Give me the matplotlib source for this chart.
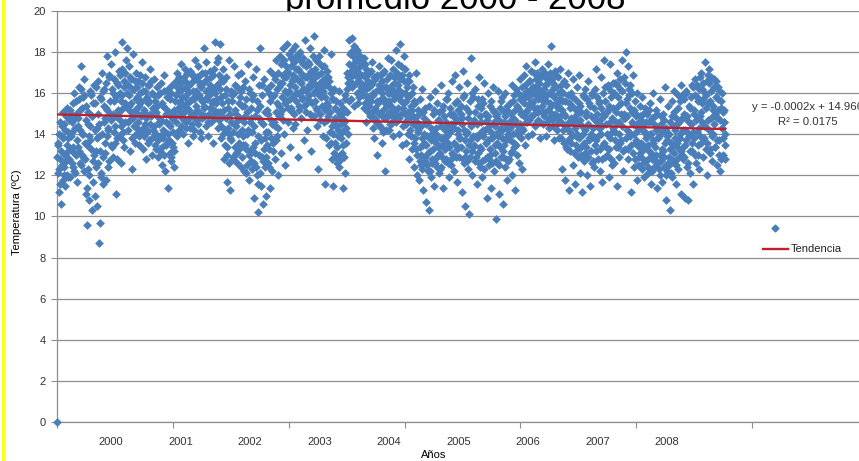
import numpy as np
import matplotlib.pyplot as plt
from matplotlib.lines import Line2D

# temperatura media diaria (ºC), por tramos de ~300 registros
# t*: valores en los registros 0, 3, 6, ...   u*: valores intermedios (1.5, 4.5, ...)
t0 = [0.0, 12.1, 13.5, 11.2, 14.6, 12.8, 10.6, 13.9, 11.8, 15.1,
      12.4, 14.2, 11.5, 13.1, 15.3, 12.0, 13.8, 14.7, 11.9, 13.3,
      15.0, 12.6, 14.1, 13.4, 16.0, 12.2, 14.8, 13.0, 15.6, 11.7,
      14.4, 16.3, 13.2, 15.2, 12.5, 17.3, 14.0, 15.8, 12.9, 16.7,
      13.6, 11.1, 15.4, 9.6, 14.5, 12.3, 10.8, 16.1, 13.7, 15.9,
      10.3, 14.9, 12.7, 16.4, 11.0, 15.5, 13.2, 10.5, 14.3, 16.6,
      8.7, 13.9, 9.7, 15.7, 12.1, 17.0, 11.6, 14.6, 16.2, 13.1,
      15.3, 11.8, 17.8, 14.2, 12.4, 16.8, 15.0, 13.5, 17.4, 14.8,
      16.0, 12.9, 15.6, 18.0, 14.4, 11.1, 16.5, 13.8, 15.2, 17.1,
      14.7, 16.9, 12.6, 15.9, 18.5, 14.1, 16.3, 13.4, 15.5, 17.6]
t1 = [16.0, 18.2, 14.6, 15.4, 17.3, 13.2, 16.7, 15.1, 12.3, 17.9,
      14.8, 16.2, 13.6, 15.7, 17.0, 14.3, 16.6, 15.0, 13.9, 16.9,
      15.5, 14.1, 17.5, 13.3, 16.1, 15.2, 14.5, 16.8, 12.8, 15.8,
      14.2, 16.4, 13.7, 15.6, 17.2, 14.9, 16.0, 13.0, 15.3, 14.4,
      16.7, 13.5, 15.1, 14.0, 16.3, 12.9, 15.9, 14.6, 13.2, 16.5,
      14.7, 12.5, 15.4, 13.8, 16.9, 14.1, 12.2, 15.0, 13.6, 16.2,
      11.4, 14.5, 13.1, 15.7, 12.7, 14.8, 16.4, 13.4, 15.2, 12.4,
      14.9, 16.6, 13.9, 17.0, 15.3, 14.2, 16.1, 15.6, 14.4, 17.4,
      15.8, 14.0, 16.8, 15.1, 17.2, 14.6, 16.3, 15.5, 13.6, 16.0,
      15.2, 17.1, 14.3, 16.5, 15.7, 13.9, 16.9, 15.0, 14.8, 17.6]
t2 = [15.4, 16.8, 14.7, 17.3, 15.9, 14.1, 16.4, 13.8, 15.6, 17.0,
      14.9, 18.2, 15.3, 16.6, 14.4, 17.5, 15.8, 13.9, 16.2, 15.0,
      17.1, 14.6, 16.0, 15.5, 13.6, 16.9, 15.2, 18.5, 14.8, 16.3,
      15.7, 17.7, 14.3, 16.5, 18.4, 15.1, 13.8, 16.7, 14.9, 17.2,
      12.8, 15.9, 14.2, 16.8, 13.4, 11.7, 15.3, 17.6, 14.0, 11.3,
      16.1, 13.7, 15.6, 12.9, 17.3, 14.5, 16.4, 13.1, 15.0, 12.6,
      14.7, 16.9, 13.3, 15.8, 12.4, 17.0, 14.2, 16.3, 13.9, 15.4,
      13.5, 16.6, 12.1, 15.1, 14.0, 17.4, 11.8, 16.0, 13.2, 14.8,
      15.7, 12.3, 16.8, 14.4, 10.9, 13.6, 17.2, 12.0, 15.2, 10.2,
      16.4, 13.0, 18.2, 11.5, 14.6, 15.9, 12.7, 10.6, 16.7, 13.8]
t3 = [14.1, 11.0, 16.2, 12.6, 15.0, 13.3, 17.1, 11.4, 14.7, 12.2,
      15.8, 13.6, 16.9, 12.8, 14.4, 17.6, 13.9, 15.5, 12.0, 16.3,
      14.9, 17.8, 13.1, 16.5, 15.2, 18.2, 14.0, 16.8, 12.5, 17.3,
      15.6, 18.4, 14.6, 17.0, 16.1, 13.4, 17.7, 15.3, 18.1, 14.3,
      16.7, 15.0, 18.3, 14.5, 17.2, 16.0, 12.9, 17.9, 15.4, 16.6,
      18.0, 14.8, 16.9, 15.7, 17.4, 13.7, 16.2, 18.6, 15.1, 16.8,
      14.2, 17.5, 15.9, 16.4, 18.2, 13.2, 17.0, 15.5, 16.7, 14.9,
      18.8, 16.1, 15.3, 17.6, 14.4, 16.9, 12.3, 17.8, 15.0, 16.5,
      15.8, 17.3, 13.9, 16.3, 18.1, 15.2, 11.6, 16.8, 14.7, 17.1,
      15.4, 13.5, 16.6, 14.1, 17.9, 12.8, 15.7, 11.5, 16.2, 14.6]
t4 = [14.8, 12.9, 15.6, 13.4, 14.2, 16.1, 12.4, 15.0, 13.8, 14.5,
      13.1, 15.3, 11.4, 14.7, 12.1, 15.9, 13.6, 17.0, 14.0, 16.5,
      18.6, 16.8, 17.9, 15.7, 18.7, 16.4, 17.3, 15.4, 18.2, 16.9,
      17.6, 16.0, 18.1, 15.5, 17.0, 16.6, 17.8, 15.9, 16.3, 17.4,
      16.2, 17.7, 15.3, 16.8, 14.6, 17.2, 15.8, 16.5, 15.1, 17.0,
      14.9, 16.4, 15.6, 17.5, 14.3, 16.0, 13.8, 15.2, 16.7, 14.7,
      16.9, 13.0, 15.5, 17.3, 14.4, 16.2, 15.0, 13.6, 16.6, 14.1,
      15.7, 17.1, 12.2, 16.3, 14.8, 15.4, 17.7, 14.2, 16.0, 15.1,
      17.6, 14.5, 16.4, 15.9, 13.9, 16.8, 15.2, 18.1, 14.6, 16.1,
      15.3, 17.4, 14.0, 16.7, 18.4, 15.6, 13.5, 16.9, 14.4, 17.8]
t5 = [15.0, 17.2, 13.6, 16.3, 14.7, 15.8, 12.8, 16.6, 14.2, 15.4,
      13.3, 16.0, 14.9, 12.4, 15.6, 13.8, 17.0, 14.4, 12.0, 15.2,
      14.1, 11.8, 15.7, 13.0, 12.5, 16.2, 13.5, 11.3, 14.8, 12.7,
      15.3, 10.7, 13.9, 12.2, 14.6, 10.3, 13.2, 15.8, 11.9, 14.0,
      12.6, 15.0, 13.7, 11.5, 16.1, 14.3, 12.9, 15.5, 13.4, 12.1,
      14.7, 13.1, 16.4, 12.4, 15.2, 13.8, 11.4, 14.9, 13.3, 15.7,
      12.8, 14.4, 16.0, 13.6, 11.9, 15.3, 14.1, 12.5, 16.6, 13.0,
      15.0, 12.2, 14.6, 16.9, 13.5, 11.7, 15.6, 14.2, 12.9, 16.3,
      13.8, 15.4, 11.2, 14.8, 17.1, 12.6, 15.9, 10.5, 14.0, 13.2,
      16.5, 12.3, 15.1, 10.1, 13.7, 17.7, 14.5, 12.0, 15.8, 13.4]
t6 = [14.6, 12.7, 16.2, 13.9, 11.6, 15.4, 13.1, 16.8, 12.4, 14.9,
      13.3, 15.7, 11.9, 14.2, 16.5, 12.8, 15.0, 13.6, 10.9, 14.7,
      16.0, 12.5, 14.4, 13.0, 15.6, 11.4, 13.8, 16.3, 12.2, 15.1,
      13.5, 9.9, 14.9, 12.6, 16.1, 13.9, 11.1, 15.3, 12.9, 14.3,
      15.8, 13.2, 10.6, 14.6, 12.4, 16.0, 13.7, 11.8, 15.2, 14.0,
      12.8, 15.5, 14.3, 13.1, 16.4, 12.0, 14.8, 15.9, 13.4, 11.3,
      14.5, 16.2, 13.0, 15.3, 12.6, 14.1, 16.7, 13.8, 15.0, 12.3,
      15.7, 14.2, 16.9, 13.5, 15.1, 17.3, 14.6, 16.0, 13.9, 15.4,
      16.6, 14.8, 17.1, 15.5, 14.0, 16.3, 15.0, 17.5, 14.4, 16.1,
      15.3, 17.0, 14.7, 16.5, 15.8, 13.8, 16.9, 15.1, 17.2, 14.5]
t7 = [16.2, 14.9, 17.0, 15.6, 13.9, 16.7, 15.2, 17.4, 14.3, 16.0,
      15.4, 18.3, 14.7, 16.5, 15.9, 13.7, 17.1, 15.0, 16.3, 14.5,
      16.8, 15.3, 13.8, 17.2, 14.9, 16.1, 12.3, 15.6, 14.2, 16.6,
      15.0, 11.8, 16.4, 14.5, 13.3, 17.0, 15.5, 11.3, 14.1, 16.0,
      13.6, 15.8, 12.5, 16.7, 14.8, 11.6, 15.2, 13.9, 16.3, 12.9,
      14.6, 16.9, 12.1, 15.4, 13.4, 11.2, 15.9, 14.0, 12.7, 16.2,
      13.1, 15.1, 14.4, 12.0, 16.6, 13.7, 15.5, 11.5, 14.9, 12.6,
      16.0, 13.9, 15.3, 12.4, 14.7, 17.2, 13.2, 15.8, 12.8, 14.3,
      15.6, 12.2, 16.8, 14.0, 11.7, 15.0, 13.5, 17.6, 12.9, 16.3,
      14.5, 13.0, 16.4, 15.2, 11.9, 17.4, 13.8, 16.1, 12.5, 14.8]
t8 = [15.3, 12.6, 16.5, 14.1, 13.4, 17.0, 11.5, 15.8, 14.6, 12.9,
      16.2, 13.7, 15.0, 17.6, 12.2, 14.8, 16.8, 13.3, 15.5, 18.0,
      14.2, 17.3, 12.8, 15.9, 13.9, 16.4, 11.2, 15.1, 14.5, 16.9,
      12.4, 15.6, 13.6, 14.9, 16.0, 11.8, 14.3, 12.9, 15.4, 13.1,
      14.7, 12.3, 15.8, 13.5, 11.9, 14.1, 15.3, 12.7, 13.8, 15.0,
      12.1, 14.6, 13.2, 15.5, 11.6, 14.0, 12.8, 16.0, 13.6, 12.4,
      14.9, 13.0, 15.2, 11.4, 14.3, 12.6, 13.9, 15.7, 12.0, 14.5,
      13.3, 11.7, 15.0, 12.9, 14.2, 16.3, 10.8, 13.7, 12.2, 15.4,
      14.0, 12.5, 10.3, 13.6, 15.6, 11.9, 14.4, 13.1, 16.1, 12.7,
      14.8, 11.6, 13.4, 15.9, 12.3, 14.6, 13.8, 11.1, 16.4, 13.0]
t9 = [14.2, 12.8, 15.7, 10.9, 13.5, 16.0, 12.4, 14.7, 10.8, 13.9,
      15.3, 12.1, 14.5, 16.4, 13.2, 11.6, 15.0, 13.8, 16.7, 12.6,
      14.1, 15.8, 13.0, 16.2, 12.3, 14.9, 17.0, 13.6, 15.5, 12.9,
      16.5, 14.4, 17.5, 13.3, 15.9, 12.0, 16.9, 14.7, 17.2, 13.1,
      15.6, 16.8, 12.7, 15.2, 14.0, 16.3, 13.4, 15.0, 16.6, 12.5,
      14.8, 15.7, 13.7, 16.1, 12.2, 15.3, 14.3, 16.0, 13.0, 14.6,
      15.2, 12.8]

u0 = [12.9, 13.6, 12.3, 14.0, 11.6, 13.2, 14.4, 12.5, 13.8, 12.0,
      14.5, 13.0, 12.7, 14.9, 13.5, 11.9, 14.1, 12.8, 15.2, 13.3,
      13.9, 14.6, 12.4, 15.5, 13.1, 14.3, 12.1, 15.0, 13.7, 14.8,
      13.4, 15.7, 12.6, 14.2, 16.2, 13.0, 15.3, 14.0, 12.2, 15.9,
      12.8, 14.7, 13.5, 11.4, 15.1, 13.9, 12.0, 14.4, 16.0, 13.3,
      14.9, 11.7, 15.5, 13.0, 14.2, 12.4, 16.3, 13.8, 15.0, 12.6,
      14.5, 13.2, 15.8, 11.9, 14.0, 16.1, 12.9, 15.4, 13.6, 14.8,
      16.5, 13.9, 15.2, 14.3, 16.9, 12.7, 15.6, 14.7, 13.4, 16.2,
      15.0, 14.1, 16.7, 13.6, 15.8, 14.9, 12.8, 16.4, 15.1, 13.9,
      16.0, 14.4, 15.6, 17.2, 13.7, 15.3, 16.6, 14.6, 17.0, 15.4]
u1 = [15.3, 16.4, 14.2, 15.9, 16.8, 14.7, 15.5, 13.8, 16.2, 15.0,
      14.4, 16.6, 15.2, 14.0, 15.8, 16.3, 14.6, 15.4, 13.5, 16.0,
      14.9, 15.6, 16.5, 14.3, 15.1, 13.9, 16.1, 14.8, 15.7, 14.1,
      15.5, 13.6, 16.4, 14.5, 15.0, 16.6, 13.8, 15.3, 14.2, 15.9,
      14.0, 15.6, 13.3, 14.9, 15.4, 13.7, 14.5, 16.0, 13.9, 14.7,
      15.5, 13.4, 14.2, 16.1, 13.0, 15.3, 14.6, 13.5, 15.8, 14.0,
      13.7, 15.1, 14.4, 12.9, 16.0, 13.6, 15.0, 14.1, 13.2, 15.6,
      15.9, 14.6, 16.3, 15.2, 14.0, 16.8, 14.9, 15.5, 16.5, 15.0,
      16.2, 15.4, 14.7, 16.6, 15.8, 14.3, 17.0, 15.3, 16.1, 14.8,
      16.4, 15.6, 15.0, 16.9, 14.5, 16.1, 15.7, 14.2, 16.7, 15.9]
u2 = [16.1, 15.2, 16.6, 14.5, 15.8, 16.9, 15.0, 16.3, 14.8, 15.6,
      16.5, 15.4, 17.0, 14.9, 16.1, 15.7, 16.7, 14.6, 15.9, 16.4,
      15.3, 16.8, 14.9, 16.2, 15.6, 17.2, 15.0, 16.0, 15.5, 17.5,
      16.4, 15.1, 16.9, 14.7, 16.2, 15.8, 14.4, 15.5, 16.6, 14.0,
      15.2, 13.5, 16.2, 14.8, 13.0, 15.6, 14.3, 12.6, 15.0, 13.8,
      14.6, 15.9, 12.8, 14.1, 16.0, 13.4, 15.2, 14.4, 13.1, 16.3,
      14.0, 15.5, 13.6, 14.8, 16.1, 12.9, 15.4, 13.5, 14.6, 12.2,
      14.9, 13.3, 15.7, 12.5, 14.2, 16.2, 13.0, 14.6, 15.3, 12.7,
      14.1, 13.4, 15.9, 12.6, 14.9, 13.1, 12.4, 15.6, 13.9, 11.6,
      14.8, 12.1, 15.4, 13.7, 16.4, 12.9, 14.5, 13.3, 15.1, 12.4]
u3 = [12.9, 15.2, 13.5, 14.1, 16.0, 12.4, 15.6, 13.8, 16.4, 14.5,
      13.2, 15.9, 14.6, 16.7, 13.7, 15.1, 16.2, 14.3, 17.0, 15.4,
      16.5, 15.0, 17.4, 15.8, 16.9, 14.7, 17.6, 16.1, 15.5, 16.8,
      17.1, 16.0, 15.3, 17.9, 16.4, 15.7, 17.3, 16.6, 15.1, 16.9,
      17.5, 15.9, 16.3, 17.8, 15.6, 16.7, 17.2, 16.0, 15.2, 17.6,
      16.5, 17.0, 15.8, 16.2, 17.7, 15.4, 16.8, 17.3, 16.1, 15.5,
      16.9, 15.7, 17.4, 16.3, 15.0, 17.1, 16.6, 14.9, 17.8, 16.0,
      15.6, 17.2, 16.4, 15.2, 16.9, 17.5, 15.9, 16.2, 14.7, 17.0,
      16.6, 15.4, 16.1, 14.6, 17.3, 15.8, 16.5, 13.8, 15.5, 16.8,
      14.9, 16.3, 15.1, 13.6, 16.0, 14.4, 15.7, 14.0, 13.1, 15.3]
u4 = [13.6, 14.4, 12.6, 15.2, 13.9, 14.8, 13.0, 15.5, 12.8, 14.1,
      15.0, 13.5, 14.6, 12.9, 15.7, 14.3, 16.2, 15.1, 16.8, 15.6,
      17.4, 16.6, 18.0, 17.1, 16.3, 17.8, 16.9, 18.3, 17.5, 16.5,
      17.2, 18.0, 16.8, 17.6, 15.8, 17.3, 16.1, 16.9, 17.7, 16.4,
      15.9, 16.9, 15.5, 17.4, 16.2, 15.8, 17.0, 16.6, 15.4, 16.3,
      15.8, 17.1, 15.1, 16.5, 15.9, 14.8, 16.8, 15.3, 14.6, 16.1,
      15.6, 14.5, 16.4, 15.0, 16.9, 15.7, 14.3, 16.0, 15.2, 17.0,
      14.8, 16.3, 15.5, 14.2, 16.7, 15.0, 16.0, 15.6, 14.5, 16.9,
      15.4, 16.2, 14.9, 17.2, 15.7, 14.7, 16.5, 15.0, 17.0, 15.9,
      16.4, 14.8, 15.8, 16.1, 15.0, 17.3, 16.0, 15.3, 16.6, 15.5]
u5 = [16.0, 14.5, 15.6, 16.6, 14.0, 15.1, 16.9, 14.8, 15.9, 13.9,
      15.2, 14.5, 16.3, 13.6, 14.8, 15.5, 13.3, 14.6, 13.0, 14.2,
      15.0, 13.4, 12.7, 14.4, 13.8, 12.3, 15.1, 13.6, 14.0, 12.9,
      13.5, 14.5, 12.5, 13.1, 15.4, 13.9, 12.2, 14.3, 13.7, 12.8,
      14.2, 13.3, 15.2, 12.6, 14.0, 13.6, 12.4, 14.7, 13.0, 15.1,
      13.8, 12.3, 14.4, 13.5, 12.9, 15.4, 13.7, 14.2, 12.7, 14.6,
      13.9, 15.7, 12.6, 14.1, 13.4, 15.0, 12.8, 14.5, 13.1, 14.9,
      13.6, 14.3, 15.5, 12.9, 14.8, 13.3, 14.0, 15.2, 13.8, 14.6,
      15.0, 13.4, 14.5, 12.8, 15.8, 14.2, 13.7, 12.9, 15.3, 14.1,
      12.7, 14.8, 13.5, 15.6, 12.9, 14.4, 13.2, 16.0, 13.9, 14.7]
u6 = [13.5, 15.1, 12.9, 14.5, 13.8, 15.7, 12.6, 14.0, 13.4, 15.3,
      14.6, 12.7, 13.9, 15.5, 12.3, 14.2, 13.6, 15.0, 12.9, 13.7,
      14.9, 12.8, 15.4, 13.3, 14.1, 12.6, 15.2, 13.9, 14.6, 13.1,
      14.4, 12.7, 13.6, 15.0, 14.1, 12.5, 14.7, 13.4, 15.6, 13.8,
      14.2, 12.9, 15.1, 13.5, 14.9, 12.8, 14.3, 15.4, 12.7, 13.9,
      14.6, 13.7, 15.0, 14.4, 13.2, 15.6, 14.0, 13.6, 15.2, 14.7,
      13.5, 15.4, 14.2, 16.0, 13.9, 15.7, 14.5, 15.1, 16.3, 14.3,
      15.9, 14.9, 15.5, 16.4, 14.6, 15.2, 16.1, 15.8, 14.7, 16.6,
      15.5, 16.2, 14.9, 16.0, 15.6, 17.0, 15.3, 14.5, 16.7, 15.9,
      16.4, 15.7, 15.1, 16.2, 14.6, 15.9, 16.8, 15.4, 16.0, 15.6]
u7 = [15.7, 16.4, 15.1, 16.8, 14.6, 15.9, 16.5, 14.8, 15.5, 17.0,
      16.1, 15.0, 16.7, 14.4, 15.8, 16.3, 14.9, 15.5, 16.9, 14.2,
      15.4, 16.0, 14.7, 15.7, 16.4, 13.8, 15.2, 14.5, 16.0, 13.6,
      14.9, 15.6, 13.4, 14.3, 15.9, 13.7, 14.6, 15.3, 13.2, 14.8,
      15.4, 13.9, 14.6, 13.1, 15.7, 14.3, 13.5, 15.0, 14.0, 13.3,
      15.5, 13.8, 14.7, 13.0, 15.1, 14.4, 12.8, 15.8, 13.6, 14.2,
      14.9, 13.4, 15.7, 12.9, 14.5, 13.8, 15.4, 13.2, 14.0, 15.9,
      14.3, 12.7, 14.8, 13.5, 16.2, 13.7, 14.6, 15.0, 13.9, 15.5,
      13.3, 14.7, 15.3, 12.8, 14.4, 16.0, 13.6, 14.9, 15.6, 13.4,
      15.1, 14.0, 16.3, 13.3, 15.4, 14.6, 12.8, 15.8, 14.1, 16.5]
u8 = [14.3, 16.0, 13.7, 15.1, 14.6, 16.4, 13.4, 15.4, 14.0, 16.7,
      13.6, 15.5, 14.4, 16.1, 13.2, 15.0, 14.8, 16.5, 13.8, 15.7,
      14.9, 13.3, 16.2, 14.1, 15.3, 13.5, 16.0, 14.6, 13.1, 15.2,
      14.0, 12.8, 15.0, 13.7, 14.5, 12.5, 14.2, 13.4, 14.9, 12.9,
      13.6, 14.4, 12.6, 15.0, 13.3, 14.1, 12.7, 14.6, 13.9, 12.4,
      13.5, 15.2, 12.9, 14.0, 13.1, 14.8, 12.2, 13.7, 14.5, 12.8,
      13.4, 14.2, 12.6, 15.0, 13.8, 12.3, 14.4, 13.0, 14.9, 12.7,
      14.1, 13.2, 12.4, 14.7, 13.6, 12.0, 14.3, 13.9, 12.6, 14.0,
      12.9, 14.6, 13.3, 12.1, 14.9, 13.5, 12.7, 15.1, 13.8, 14.2,
      12.5, 14.5, 13.6, 15.3, 12.9, 14.0, 15.6, 13.2, 14.8, 15.9]
u9 = [13.4, 15.0, 12.9, 14.2, 16.1, 13.7, 14.9, 12.6, 15.4, 14.0,
      13.2, 15.8, 14.5, 13.6, 16.3, 14.1, 15.2, 13.0, 15.9, 14.7,
      16.4, 13.5, 15.6, 14.3, 16.8, 13.9, 15.1, 16.2, 14.6, 15.7,
      13.8, 16.0, 14.4, 15.3, 16.6, 13.6, 15.5, 14.2, 16.5, 13.3,
      14.8, 16.1, 13.9, 15.4, 14.5, 16.7, 13.4, 15.8, 14.9, 13.7,
      15.2, 16.3, 13.0, 14.7, 15.6, 12.8, 14.3, 15.1, 13.8, 14.6,
      14.0, 13.5]

anios = ['2000', '2001', '2002', '2003', '2004', '2005', '2006', '2007', '2008']

# linea de tendencia (ajuste lineal de Excel)
pendiente = -0.000246
intercepto = 14.966

temp_a = np.array(t0 + t1 + t2 + t3 + t4 + t5 + t6 + t7 + t8 + t9)
temp_b = np.array(u0 + u1 + u2 + u3 + u4 + u5 + u6 + u7 + u8 + u9)
dias_a = np.arange(len(temp_a)) * 3
dias_b = np.arange(len(temp_b)) * 3 + 1.5
dias = np.concatenate([dias_a, dias_b])
temp = np.concatenate([temp_a, temp_b])

azul = '#4A7EBB'
rojo = '#C0202E'
gris = '#8E8E8E'

plt.rcParams['font.family'] = ['Liberation Sans', 'DejaVu Sans']

W, H = 859, 461
fig = plt.figure(figsize=(W/100, H/100), dpi=100)
ax = fig.add_axes([57/W, 39/H, 811/W, 411/H])

ax.scatter(dias, temp, s=20, marker='D', color=azul, linewidths=0, clip_on=False, zorder=3)
ax.plot([0, dias_a[-1]], [intercepto, intercepto + pendiente*dias_a[-1]], color=rojo, lw=1.7, zorder=4)

ax.set_xlim(0, 3500)
ax.set_ylim(0, 20)
ax.set_yticks(np.arange(0, 21, 2))
ax.set_xticks(np.arange(0, 3501, 500))
ax.set_xticklabels([])
ax.set_xticks(233 + 300*np.arange(len(anios)), minor=True)
ax.set_xticklabels(anios, minor=True)
ax.tick_params(which='major', direction='out', length=4, color=gris, labelsize=8, labelcolor='#333333', pad=4)
ax.tick_params(axis='x', which='minor', length=0, labelsize=8, labelcolor='#333333', pad=11)
ax.grid(axis='y', color=gris, lw=0.9)
ax.set_axisbelow(True)
for s in ['top', 'right']:
    ax.spines[s].set_visible(False)
for s in ['left', 'bottom']:
    ax.spines[s].set_color(gris)
    ax.spines[s].set_linewidth(0.9)

# titulo cortado por arriba, como en la imagen original
fig.text(455/W, 1 - 9/H, 'promedio 2000 - 2008', ha='center', va='baseline', fontsize=25, zorder=-1)
fig.text(17/W, 1 - 212/H, 'Temperatura (ºC)', rotation=90, ha='center', va='center', fontsize=8)
fig.text(434/W, 1 - 455/H, 'Años', ha='center', va='center', fontsize=8)

# ecuacion de la tendencia
fig.text(808/W, 1 - 107/H, 'y = -0.0002x + 14.966', ha='center', va='center', fontsize=8.2, color='#333333')
fig.text(808/W, 1 - 122/H, 'R² = 0.0175', ha='center', va='center', fontsize=8.2, color='#333333')

# leyenda
fig.add_artist(Line2D([775/W], [1 - 228/H], marker='D', markersize=3.5, color=azul, lw=0))
fig.add_artist(Line2D([763/W, 788/W], [1 - 249/H]*2, color=rojo, lw=1.7))
fig.text(791/W, 1 - 249/H, 'Tendencia', ha='left', va='center', fontsize=8, color='#222222')

# borde amarillo
fig.add_artist(Line2D([3/W, 3/W], [0, 1], color='#FFFF00', lw=2))

fig.savefig('out.png', dpi=100)
